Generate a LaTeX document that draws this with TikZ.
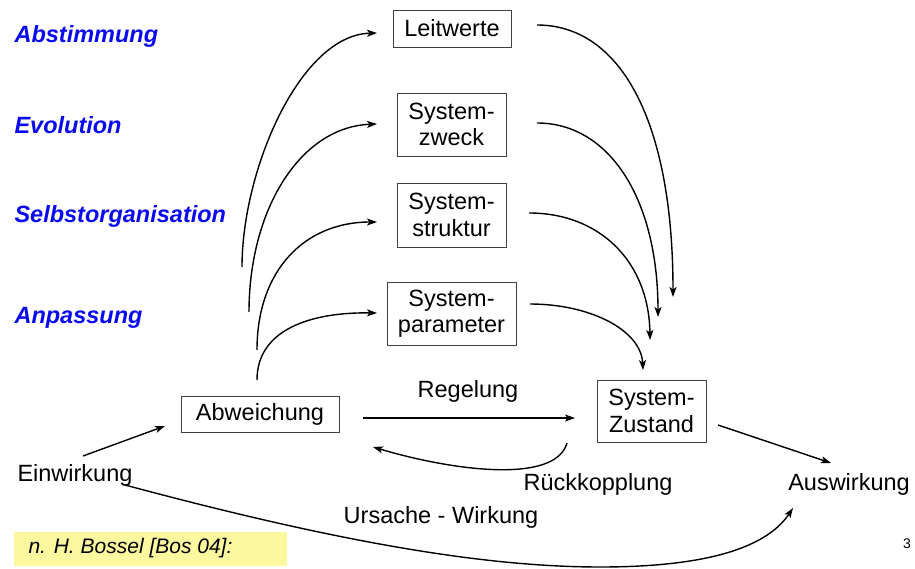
\documentclass[tikz,border=0pt]{standalone}
\usepackage{fontspec}
\setmainfont{Liberation Sans}
\usetikzlibrary{arrows.meta}
\definecolor{labblue}{RGB}{10,10,240}
\definecolor{noteyellow}{RGB}{252,248,160}
\begin{document}
\begin{tikzpicture}[x=1pt,y=-1pt,
  every node/.style={font=\fontsize{23.5}{26.5}\selectfont},
  sbox/.style={draw=black!75,line width=0.8pt,align=center,inner sep=0pt},
  lab/.style={anchor=base west,text=labblue,font=\fontsize{23.5}{26}\selectfont\bfseries\itshape},
  txt/.style={anchor=base},
  conn/.style={line width=1.4pt,-{Stealth[length=10pt,width=7pt,inset=2.5pt]}}
]
\useasboundingbox[fill=white] (0,0) rectangle (915,569);
% yellow note
\fill[noteyellow] (14,532) rectangle (287,566);
\node[anchor=base west,font=\fontsize{21}{24}\selectfont\itshape] (note) at (25,553) {n. H. Bossel [Bos 04]:};
\node[anchor=base,font=\fontsize{14}{16}\selectfont] (pg) at (907,548) {3};
% labels
\node[lab] (l1) at (11,43) {Abstimmung};
\node[lab] (l2) at (11,134) {Evolution};
\node[lab] (l3) at (11,223) {Selbstorganisation};
\node[lab] (l4) at (11,323) {Anpassung};
% boxes
\node[sbox,minimum width=118pt,minimum height=37pt] (lw) at (452,28.5) {Leitwerte};
\node[sbox,minimum width=109pt,minimum height=63pt] (sz) at (451.5,124.5) {System-\\zweck};
\node[sbox,minimum width=109pt,minimum height=64pt] (ss) at (451.5,215) {System-\\struktur};
\node[sbox,minimum width=129pt,minimum height=63pt] (sp) at (451.5,313.5) {System-\\parameter};
\node[sbox,minimum width=158pt,minimum height=36pt] (ab) at (260,414) {Abweichung};
\node[sbox,minimum width=109pt,minimum height=62pt] (zu) at (651.5,411) {System-\\Zustand};
% text nodes
\node[txt] (ein) at (75,481) {Einwirkung};
\node[txt] (aus) at (849,490) {Auswirkung};
\node[txt] (rk) at (598,490) {Rückkopplung};
\node[txt] (reg) at (468,397) {Regelung};
\node[txt] (uw) at (441,523) {Ursache - Wirkung};
% coordinates for connector ends
\coordinate (a1) at (242,267); \coordinate (e1) at (377,33);
\coordinate (a2) at (249,312); \coordinate (e2) at (377,124);
\coordinate (a3) at (257,350); \coordinate (e3) at (377,222);
\coordinate (a4) at (257,380); \coordinate (e4) at (377,313);
\coordinate (b1) at (537,25);  \coordinate (t1) at (673,297);
\coordinate (b2) at (537,123); \coordinate (t2) at (658,317);
\coordinate (b3) at (529,213); \coordinate (t3) at (650,340);
\coordinate (b4) at (530,304); \coordinate (t4) at (643,370);
\coordinate (rs) at (363,418); \coordinate (re) at (575,418);
\coordinate (ks) at (567,443); \coordinate (ke) at (373,447);
\coordinate (es) at (83,456);  \coordinate (ee) at (165,426);
\coordinate (zs) at (718,425); \coordinate (ze) at (831,463);
\coordinate (us) at (125,485); \coordinate (ub) at (600,567); \coordinate (ue) at (793,508);
% left arcs
\draw[conn] (a1) .. controls (242,170) and (300,35) .. (e1);
\draw[conn] (a2) .. controls (249,210) and (300,127) .. (e2);
\draw[conn] (a3) .. controls (257,270) and (305,222) .. (e3);
\draw[conn] (a4) .. controls (257,330) and (310,312) .. (e4);
% right arcs
\draw[conn] (b1) .. controls (620,25) and (673,120) .. (t1);
\draw[conn] (b2) .. controls (610,123) and (658,200) .. (t2);
\draw[conn] (b3) .. controls (600,213) and (649,262) .. (t3);
\draw[conn] (b4) .. controls (590,304) and (641,330) .. (t4);
% main loop
\draw[conn] (rs) -- (re);
\draw[conn] (ks) .. controls (555,485) and (450,470) .. (ke);
\draw[conn] (es) -- (ee);
\draw[conn] (zs) -- (ze);
\draw[conn] (us) .. controls (330,540) and (480,567) .. (ub) .. controls (700,567) and (765,550) .. (ue);
\end{tikzpicture}
\end{document}
